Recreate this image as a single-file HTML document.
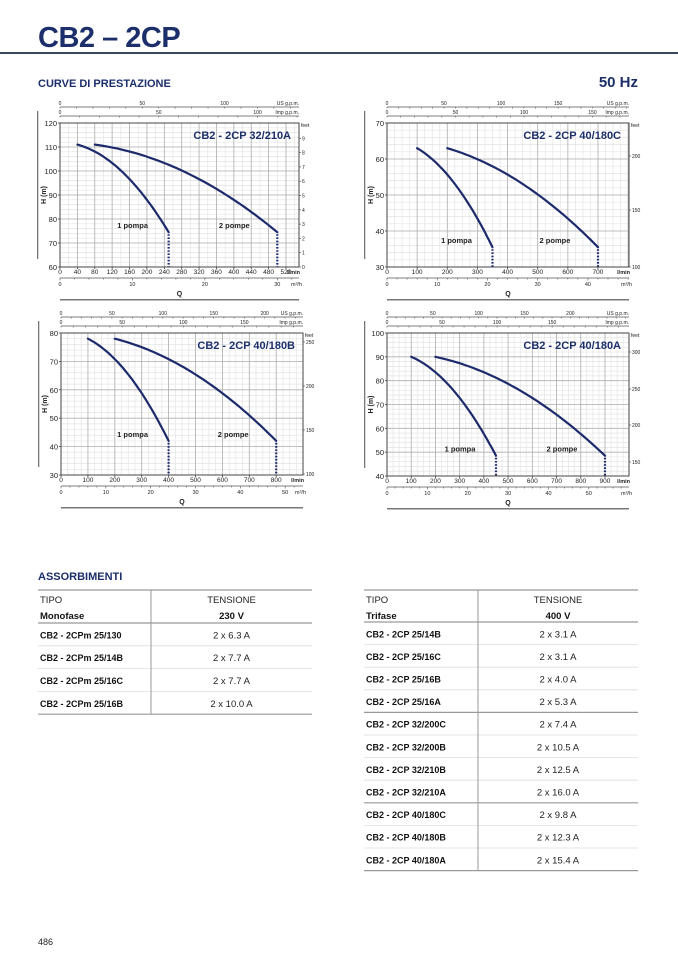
<!DOCTYPE html>
<html><head><meta charset="utf-8"><style>
body{margin:0;width:678px;height:959px;background:#fff;overflow:hidden;font-family:"Liberation Sans",sans-serif;}
svg{position:absolute;left:0;top:0}
</style></head><body>
<svg id="s" width="678" height="959" xmlns="http://www.w3.org/2000/svg" font-family="Liberation Sans, sans-serif">
<text x="38" y="47" font-size="29" font-weight="bold" fill="#1c2f6b" letter-spacing="-0.5">CB2 – 2CP</text>
<rect x="0" y="52" width="678" height="2" fill="#3a4560"/>
<text x="38" y="87" font-size="11" font-weight="bold" fill="#1c2f6b">CURVE DI PRESTAZIONE</text>
<text x="638" y="87" font-size="15" font-weight="bold" fill="#1c2f6b" text-anchor="end">50 Hz</text>
<text x="38" y="580" font-size="11" font-weight="bold" fill="#1c2f6b">ASSORBIMENTI</text>
<text x="38" y="945" font-size="9" fill="#222">486</text>
</svg>
<script>
var s=document.getElementById('s');var NS='http://www.w3.org/2000/svg';
function el(t,a,txt){var e=document.createElementNS(NS,t);for(var k in a)e.setAttribute(k,a[k]);if(txt!=null)e.textContent=txt;s.appendChild(e);return e;}
function ln(x1,y1,x2,y2,c,w,d){var a={x1:x1,y1:y1,x2:x2,y2:y2,stroke:c,'stroke-width':w||1};if(d)a['stroke-dasharray']=d;return el('line',a);}
function tx(x,y,t,sz,anc,wt,col){return el('text',{x:x,y:y,'font-size':sz,'text-anchor':anc||'middle','font-weight':wt||'normal',fill:col||'#222'},t);}
function chart(c){
 var L=c.L,R=c.R,T=c.T,B=c.B,k=c.k,qmax=(R-L)/k;
 function X(q){return L+q*k;} function Y(h){return B-(h-c.h0)/(c.h1-c.h0)*(B-T);}
 for(var q=0;q<=qmax+0.01;q+=c.minor){ln(X(q),T,X(q),B,'#e4e4e4',0.7);}
 for(var h=c.h0;h<=c.h1;h+=2){ln(L,Y(h),R,Y(h),'#e4e4e4',0.7);}
 for(var q=0;q<=qmax+0.01;q+=c.major){ln(X(q),T,X(q),B,'#b0b0b0',0.8);}
 for(var h=c.h0;h<=c.h1;h+=10){ln(L,Y(h),R,Y(h),'#b0b0b0',0.8);}
 el('rect',{x:L,y:T,width:R-L,height:B-T,fill:'none',stroke:'#444','stroke-width':1});
 for(var h=c.h0;h<=c.h1;h+=10){tx(L-3,Y(h)+3,String(h),7.5,'end');ln(L-2,Y(h),L,Y(h),'#444',0.8);}
 var ty=(T+B)/2;var t=tx(L-14,ty,'H (m)',7,'middle','bold');t.setAttribute('transform','rotate(-90 '+(L-14)+' '+ty+')');
 el('rect',{x:L-23,y:T-12,width:1.3,height:B-T+4,fill:'#777'});
 for(var q=0;q<=qmax-10;q+=c.lab){tx(X(q),B+7,String(q),6.5);ln(X(q),B,X(q),B+2,'#444',0.8);}
 tx(R+1,B+7,'l/min',5.5,'end','bold');
 var my=B+11;ln(L,my,R,my,'#555',0.8);
 for(var m=0;m*16.667<=qmax;m+=c.mstep/5){ln(X(m*16.667),my,X(m*16.667),my+ (Math.abs(m%c.mstep)<0.01?2.5:1.5),'#555',0.6);}
 for(var m=0;m*16.667<=qmax-15;m+=c.mstep){tx(X(m*16.667),my+8,String(m),5.5);}
 tx(R+3,my+8,'m³/h',5.5,'end');
 tx((L+R)/2,B+29,'Q',7,'middle','bold');
 el('rect',{x:L,y:B+32,width:R-L,height:1.5,fill:'#777'});
 var us=T-16,im=T-7;ln(L,us,R,us,'#555',0.8);ln(L,im,R,im,'#555',0.8);
 for(var g=0;g*3.785<=qmax;g+=c.gs/5)ln(X(g*3.785),us,X(g*3.785),us+1.5,'#555',0.6);
 for(var g=0;g*4.546<=qmax;g+=c.gs/5)ln(X(g*4.546),im,X(g*4.546),im+1.5,'#555',0.6);
 for(var g=0;X(g*3.785)<=R-28;g+=c.gs)tx(X(g*3.785),us-2,String(g),5);
 for(var g=0;X(g*4.546)<=R-28;g+=c.gs)tx(X(g*4.546),im-2,String(g),5);
 tx(R,us-2,'US g.p.m.',5,'end');tx(R,im-2,'Imp g.p.m.',5,'end');
 tx(R+2,T+4,'feet',5,'start');
 c.feet.forEach(function(f){tx(R+3,f[1]+2,f[0],5,'start');ln(R,f[1],R+2,f[1],'#444',0.6);});
 tx(R-8,T+16,c.title,11,'end','bold','#1c2f6b');
 var A,Bc;Bc=(c.hs-c.he)/(c.qe*c.qe-c.qs*c.qs);A=c.hs+Bc*c.qs*c.qs;
 [1,2].forEach(function(n){var d='';for(var i=0;i<=40;i++){var q=c.qs+(c.qe-c.qs)*i/40;d+=(i?'L':'M')+X(q*n).toFixed(1)+' '+Y(A-Bc*q*q).toFixed(1);}
  el('path',{d:d,fill:'none',stroke:'#1d2a6b','stroke-width':2.2,'stroke-linecap':'round'});
  ln(X(c.qe*n),Y(c.he)+2,X(c.qe*n),B,'#1d2a6b',2.2,'1.6 1.6');});
 tx(X(c.qe)-36,Y(c.he)-4,'1 pompa',7.5,'middle','bold');
 tx(X(c.qe*2)-43,Y(c.he)-4,'2 pompe',7.5,'middle','bold');
}
chart({L:60,R:299,T:123,B:267,k:0.4346,h0:60,h1:120,minor:20,major:40,lab:40,mstep:10,gs:50,title:'CB2 - 2CP 32/210A',qs:40,hs:111,qe:250,he:74.5,
 feet:[0,1,2,3,4,5,6,7,8,9].map(function(i){return [String(i),267-i*14.3];})});
chart({L:387,R:629,T:123,B:267,k:0.3014,h0:30,h1:70,minor:25,major:100,lab:100,mstep:10,gs:50,title:'CB2 - 2CP 40/180C',qs:100,hs:63,qe:350,he:35.5,
 feet:[['100',267],['150',210],['200',156]]});
chart({L:61,R:303,T:333,B:475,k:0.269,h0:30,h1:80,minor:25,major:100,lab:100,mstep:10,gs:50,title:'CB2 - 2CP 40/180B',qs:100,hs:78,qe:400,he:42,
 feet:[['100',474],['150',430],['200',386],['250',342]]});
chart({L:387,R:629,T:333,B:476,k:0.2422,h0:40,h1:100,minor:25,major:100,lab:100,mstep:10,gs:50,title:'CB2 - 2CP 40/180A',qs:100,hs:90,qe:450,he:48.5,
 feet:[['150',462],['200',425],['250',389],['300',352]]});
function table(x0,x1,div,top,hdr,line1,rows,rowh,groups){
 ln(x0,top,x1,top,'#999',1.2);
 tx(x0+2,top+13,'TIPO',9.5,'start');tx(x0+2,top+29,hdr[0],9.5,'start','bold','#111');
 tx((div+x1)/2,top+13,'TENSIONE',9.5);tx((div+x1)/2,top+29,hdr[1],9.5,'middle','bold','#111');
 var y=top+line1;ln(x0,y,x1,y,'#999',1.2);
 rows.forEach(function(r,i){tx(x0+2,y+rowh/2+4,r[0],9,'start','bold','#111');tx((div+x1)/2,y+rowh/2+4,r[1],9.5);
  y+=rowh;var heavy=(i==rows.length-1)||groups.indexOf(i)>=0;ln(x0,y,x1,y,heavy?'#999':'#ddd',heavy?1.2:0.8);});
 ln(div,top,div,y,'#999',1);
}
table(38,312,151,590,['Monofase','230 V'],33,[['CB2 - 2CPm 25/130','2 x 6.3 A'],['CB2 - 2CPm 25/14B','2 x 7.7 A'],['CB2 - 2CPm 25/16C','2 x 7.7 A'],['CB2 - 2CPm 25/16B','2 x 10.0 A']],22.8,[]);
table(364,638,478,590,['Trifase','400 V'],32,[['CB2 - 2CP 25/14B','2 x 3.1 A'],['CB2 - 2CP 25/16C','2 x 3.1 A'],['CB2 - 2CP 25/16B','2 x 4.0 A'],['CB2 - 2CP 25/16A','2 x 5.3 A'],['CB2 - 2CP 32/200C','2 x 7.4 A'],['CB2 - 2CP 32/200B','2 x 10.5 A'],['CB2 - 2CP 32/210B','2 x 12.5 A'],['CB2 - 2CP 32/210A','2 x 16.0 A'],['CB2 - 2CP 40/180C','2 x 9.8 A'],['CB2 - 2CP 40/180B','2 x 12.3 A'],['CB2 - 2CP 40/180A','2 x 15.4 A']],22.6,[3,7]);
</script>
</body></html>
